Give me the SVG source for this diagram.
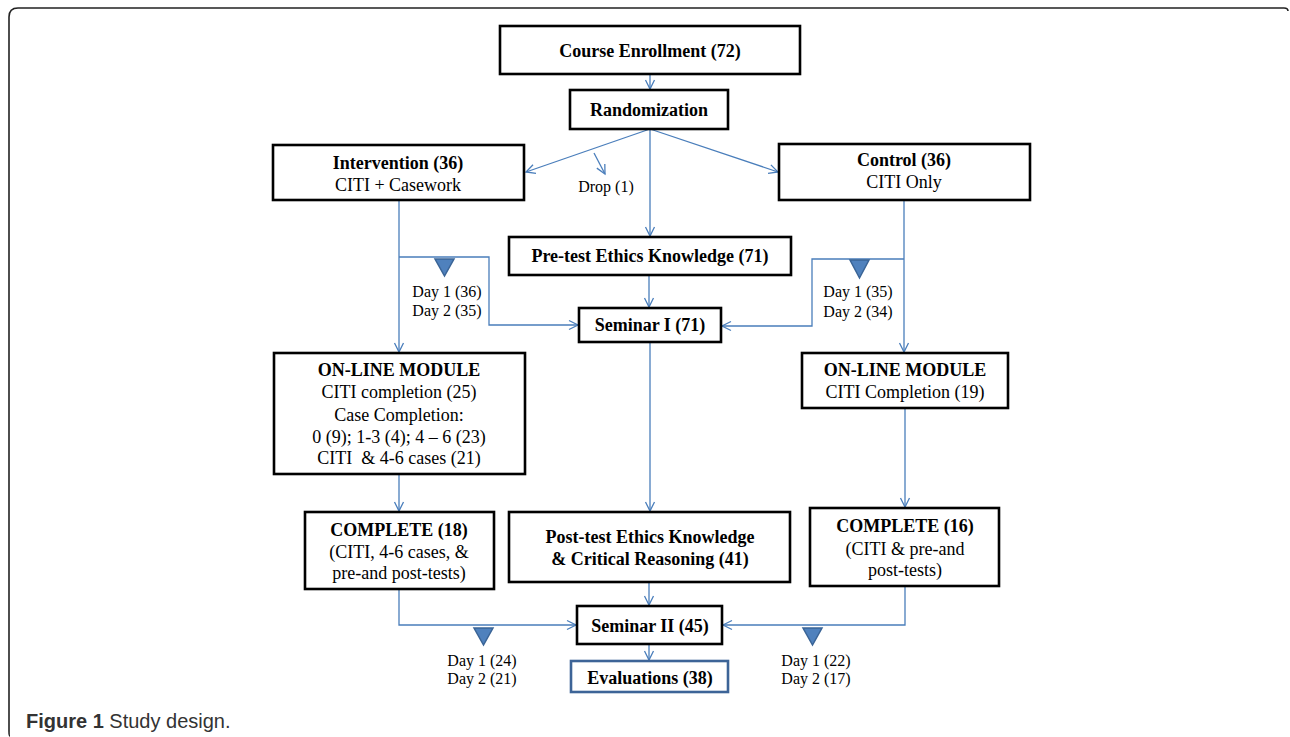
<svg xmlns="http://www.w3.org/2000/svg" width="1290" height="737" viewBox="0 0 1290 737">
<style>
.box{fill:#fff;stroke:#000;stroke-width:2.6}
.ebox{fill:#fff;stroke:#3d6497;stroke-width:2.6}
.t{font-family:"Liberation Serif","Times New Roman",serif;font-size:18px;fill:#000;text-anchor:middle}
.s{font-size:16px}
.b{font-weight:bold}
.c{fill:none;stroke:#4a7ebb;stroke-width:1.3}
.tri{fill:#4f81bd;stroke:#3a6496;stroke-width:1.5}
</style>
<defs>
<marker id="ah" markerWidth="12" markerHeight="12" refX="10" refY="6" orient="auto" markerUnits="userSpaceOnUse">
<path d="M1,1.5 L10,6 L1,10.5" fill="none" stroke="#4a7ebb" stroke-width="1.3"/>
</marker>
</defs>
<rect width="1290" height="737" fill="#fff"/>
<path d="M10 736 Q9 736 9 731 L9 17 Q9 8 18 8 L1284 8 Q1288 8 1288 11" fill="none" stroke="#222" stroke-width="1.6"/>

<g id="connectors">
<path class="c" d="M650 74 V89" marker-end="url(#ah)"/>
<path class="c" d="M650 129 L526 172" marker-end="url(#ah)"/>
<path class="c" d="M650 129 L778 172" marker-end="url(#ah)"/>
<path class="c" d="M594 153 L605 174" marker-end="url(#ah)"/>
<path class="c" d="M650 129 V236" marker-end="url(#ah)"/>
<path class="c" d="M399 200 V352" marker-end="url(#ah)"/>
<path class="c" d="M399 257 H489 V325 H578" marker-end="url(#ah)"/>
<path class="c" d="M904 200 V352" marker-end="url(#ah)"/>
<path class="c" d="M904 259 H812 V326 H722" marker-end="url(#ah)"/>
<path class="c" d="M649 275 V307" marker-end="url(#ah)"/>
<path class="c" d="M650 342 V511" marker-end="url(#ah)"/>
<path class="c" d="M399 474 V511" marker-end="url(#ah)"/>
<path class="c" d="M905 408 V507" marker-end="url(#ah)"/>
<path class="c" d="M399 589 V625 H576" marker-end="url(#ah)"/>
<path class="c" d="M905 586 V625 H723" marker-end="url(#ah)"/>
<path class="c" d="M649 582 V605" marker-end="url(#ah)"/>
<path class="c" d="M649 644 V660" marker-end="url(#ah)"/>
<polygon class="tri" points="435,259 454,259 444.5,276"/>
<polygon class="tri" points="850,260 869,260 859.5,278"/>
<polygon class="tri" points="474,628 493,628 483.5,645"/>
<polygon class="tri" points="803,628 822,628 812.5,645"/>
</g>

<g id="enroll"><rect class="box" x="500" y="26" width="300" height="48"/><text class="t b" x="650" y="57">Course Enrollment (72)</text></g>
<g id="random"><rect class="box" x="570" y="90" width="158" height="39"/><text class="t b" x="649" y="116">Randomization</text></g>
<g id="intervention"><rect class="box" x="273" y="145" width="251" height="55"/><text class="t b" x="398" y="169">Intervention (36)</text><text class="t" x="398" y="191">CITI + Casework</text></g>
<g id="control"><rect class="box" x="779" y="144" width="251" height="56"/><text class="t b" x="904" y="166">Control (36)</text><text class="t" x="904" y="188">CITI Only</text></g>
<g id="drop"><text class="t s" x="606" y="192">Drop (1)</text></g>
<g id="pretest"><rect class="box" x="509" y="237" width="282" height="38"/><text class="t b" x="650" y="262">Pre-test Ethics Knowledge (71)</text></g>
<g id="seminar1"><rect class="box" x="579" y="308" width="142" height="34"/><text class="t b" x="650" y="331">Seminar I (71)</text></g>
<g id="day-int"><text class="t s" x="447" y="297">Day 1 (36)</text><text class="t s" x="447" y="316">Day 2 (35)</text></g>
<g id="day-ctl"><text class="t s" x="858" y="297">Day 1 (35)</text><text class="t s" x="858" y="317">Day 2 (34)</text></g>
<g id="online-int"><rect class="box" x="274" y="353" width="251" height="121"/>
<text class="t b" x="399" y="376">ON-LINE MODULE</text>
<text class="t" x="399" y="398">CITI completion (25)</text>
<text class="t" x="399" y="421">Case Completion:</text>
<text class="t" x="399" y="443">0 (9); 1-3 (4); 4 – 6 (23)</text>
<text class="t" x="399" y="464" xml:space="preserve">CITI  &amp; 4-6 cases (21)</text></g>
<g id="online-ctl"><rect class="box" x="802" y="353" width="206" height="55"/><text class="t b" x="905" y="376">ON-LINE MODULE</text><text class="t" x="905" y="398">CITI Completion (19)</text></g>
<g id="complete18"><rect class="box" x="305" y="512" width="189" height="77"/><text class="t b" x="399" y="536">COMPLETE (18)</text><text class="t" x="399" y="558">(CITI, 4-6 cases, &amp;</text><text class="t" x="399" y="579">pre-and post-tests)</text></g>
<g id="posttest"><rect class="box" x="509" y="512" width="281" height="70"/><text class="t b" x="650" y="543">Post-test Ethics Knowledge</text><text class="t b" x="650" y="565">&amp; Critical Reasoning (41)</text></g>
<g id="complete16"><rect class="box" x="810" y="508" width="189" height="78"/><text class="t b" x="905" y="532">COMPLETE (16)</text><text class="t" x="905" y="555">(CITI &amp; pre-and</text><text class="t" x="905" y="576">post-tests)</text></g>
<g id="seminar2"><rect class="box" x="577" y="606" width="145" height="38"/><text class="t b" x="650" y="632">Seminar II (45)</text></g>
<g id="day-s2l"><text class="t s" x="482" y="666">Day 1 (24)</text><text class="t s" x="482" y="684">Day 2 (21)</text></g>
<g id="day-s2r"><text class="t s" x="816" y="666">Day 1 (22)</text><text class="t s" x="816" y="684">Day 2 (17)</text></g>
<g id="evaluations"><rect class="ebox" x="571" y="661" width="157" height="31"/><text class="t b" x="650" y="684">Evaluations (38)</text></g>
<text x="26" y="728" style="font-family:'Liberation Sans',Arial,sans-serif;font-size:20px;fill:#333"><tspan font-weight="bold">Figure 1</tspan> Study design.</text>
</svg>
